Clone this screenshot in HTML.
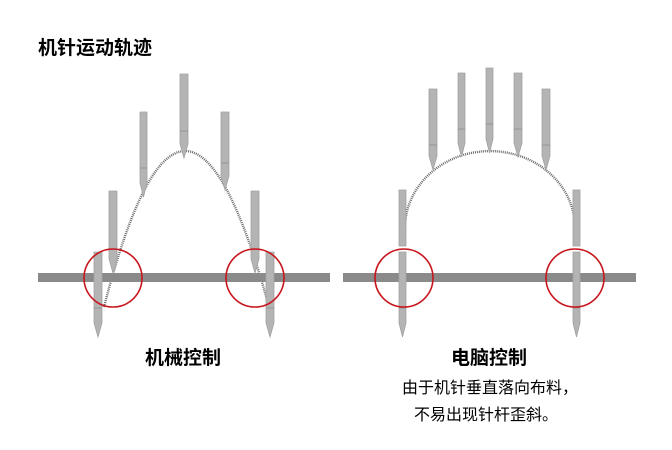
<!DOCTYPE html>
<html><head><meta charset="utf-8"><style>
html,body{margin:0;padding:0;background:#fff;}
body{width:672px;height:450px;overflow:hidden;}
svg{display:block;}
text{font-family:"Liberation Sans","Noto Sans CJK SC",sans-serif;fill:#000;}
</style></head><body>
<svg width="672" height="450" viewBox="0 0 672 450" xmlns="http://www.w3.org/2000/svg">
<defs>
<style>
.n{fill:#b4b4b4;stroke:#a2a2a2;stroke-width:0.8;}
.m{stroke:#8e8e8e;stroke-width:0.8;}
.d{fill:none;stroke:#6a6a6a;stroke-width:2.4;stroke-dasharray:1 1;}
.c{fill:none;stroke:#c8161d;stroke-width:1.6;}
</style>
</defs>
<text x="38" y="54" font-size="19" font-weight="bold">机针运动轨迹</text>

<!-- LEFT PANEL -->
<path class="d" d="M104,307 Q184,-5 269,307"/>
<rect x="38" y="273" width="292" height="9" fill="#8a8a8a"/>
<!-- needles -->
<path class="n" d="M180,74H188V144L184,158L180,144Z"/><line class="m" x1="180" y1="131" x2="188" y2="131"/>
<path class="n" d="M140,112H147V183L143.5,197L140,183Z"/><line class="m" x1="140" y1="168" x2="147" y2="168"/>
<path class="n" d="M221,112H229V176L225,190L221,176Z"/><line class="m" x1="221" y1="163" x2="229" y2="163"/>
<path class="n" d="M109,191H117V259L113,273L109,259Z"/>
<path class="n" d="M251,191H259V259L255,273L251,259Z"/>
<path class="n" d="M94,252H102V323L98,337L94,323Z"/><line class="m" x1="94" y1="308" x2="102" y2="308"/>
<path class="n" d="M266,252H274V323L270,337L266,323Z"/><line class="m" x1="266" y1="308" x2="274" y2="308"/>
<circle class="c" cx="113" cy="278" r="29"/>
<circle class="c" cx="255" cy="278" r="29"/>
<text x="183" y="364" font-size="19" font-weight="bold" text-anchor="middle">机械控制</text>

<!-- RIGHT PANEL -->
<path class="d" d="M405,228 A84,76 0 0 1 575,228"/>
<rect x="343" y="273" width="293" height="9" fill="#8a8a8a"/>
<path class="n" d="M429,89H437V156L433,170L429,156Z"/><line class="m" x1="429" y1="145" x2="437" y2="145"/>
<path class="n" d="M458,73H465V143L461.5,157L458,143Z"/><line class="m" x1="458" y1="129" x2="465" y2="129"/>
<path class="n" d="M486,68H493V139L489.5,153L486,139Z"/><line class="m" x1="486" y1="124" x2="493" y2="124"/>
<path class="n" d="M514,73H522V143L518,157L514,143Z"/><line class="m" x1="514" y1="129" x2="522" y2="129"/>
<path class="n" d="M542,89H550V156L546,170L542,156Z"/><line class="m" x1="542" y1="145" x2="550" y2="145"/>
<rect class="n" x="399" y="190" width="7" height="56"/>
<path class="n" d="M399,252H406V323L402.5,337L399,323Z"/><line class="m" x1="399" y1="308" x2="406" y2="308"/>
<rect class="n" x="573" y="190" width="7" height="56"/>
<path class="n" d="M573,252H580V323L576.5,337L573,323Z"/><line class="m" x1="573" y1="308" x2="580" y2="308"/>
<circle class="c" cx="404" cy="278" r="29"/>
<circle class="c" cx="575" cy="278" r="29"/>
<text x="489" y="364" font-size="19" font-weight="bold" text-anchor="middle">电脑控制</text>
<text x="490" y="393" font-size="16" text-anchor="middle">由于机针垂直落向布料，</text>
<text x="486" y="420" font-size="16" text-anchor="middle">不易出现针杆歪斜。</text>
</svg>
</body></html>
